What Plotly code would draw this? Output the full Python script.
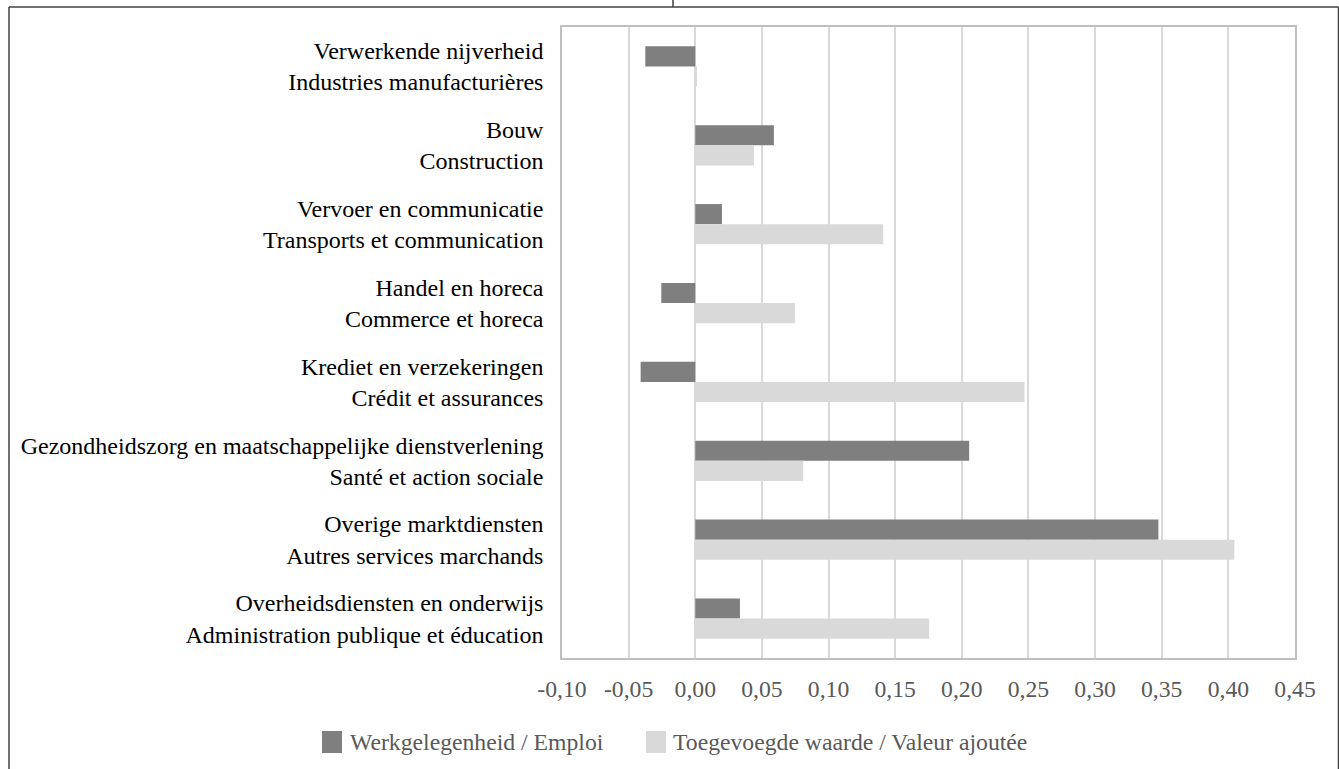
import plotly.graph_objects as go

categories = [
    "Verwerkende nijverheid<br>Industries manufacturières",
    "Bouw<br>Construction",
    "Vervoer en communicatie<br>Transports et communication",
    "Handel en horeca<br>Commerce et horeca",
    "Krediet en verzekeringen<br>Crédit et assurances",
    "Gezondheidszorg en maatschappelijke dienstverlening<br>Santé et action sociale",
    "Overige marktdiensten<br>Autres services marchands",
    "Overheidsdiensten en onderwijs<br>Administration publique et éducation",
]
werkgelegenheid = [-0.0375, 0.059, 0.020, -0.0255, -0.041, 0.2055, 0.3475, 0.0335]
toegevoegde_waarde = [0.001, 0.044, 0.141, 0.0748, 0.247, 0.081, 0.4045, 0.1755]
series_names = ["Werkgelegenheid / Emploi", "Toegevoegde waarde / Valeur ajoutée"]
tick_vals = [-0.10, -0.05, 0.00, 0.05, 0.10, 0.15, 0.20, 0.25, 0.30, 0.35, 0.40, 0.45]
tick_text = ["-0,10", "-0,05", "0,00", "0,05", "0,10", "0,15", "0,20", "0,25", "0,30", "0,35", "0,40", "0,45"]

DARK = "#7f7f7f"
LIGHT = "#d9d9d9"
FONT = "Liberation Serif"
W, H = 1339, 769
L, R, T, B = 562, 1295, 27, 658

def px(x):
    return (x - L) / (R - L)

def py(y):
    return (B - y) / (B - T)

fig = go.Figure()
fig.add_trace(go.Bar(y=categories, x=werkgelegenheid, orientation="h",
                     name=series_names[0], marker=dict(color=DARK, line=dict(width=0))))
fig.add_trace(go.Bar(y=categories, x=toegevoegde_waarde, orientation="h",
                     name=series_names[1], marker=dict(color=LIGHT, line=dict(width=0))))

shapes = [
    # outer frame
    dict(type="line", xref="paper", yref="paper", x0=px(9), x1=px(1338.5), y0=py(7), y1=py(7),
         line=dict(color="#404040", width=1.5)),
    dict(type="line", xref="paper", yref="paper", x0=px(9), x1=px(9), y0=py(7), y1=py(800),
         line=dict(color="#404040", width=1.5)),
    dict(type="line", xref="paper", yref="paper", x0=px(1338.5), x1=px(1338.5), y0=py(7), y1=py(800),
         line=dict(color="#404040", width=1.5)),
    dict(type="line", xref="paper", yref="paper", x0=px(673), x1=px(673), y0=py(0), y1=py(7),
         line=dict(color="#404040", width=1.5)),
    # legend swatches
    dict(type="rect", xref="paper", yref="paper", x0=px(322), x1=px(342), y0=py(731), y1=py(753),
         fillcolor=DARK, line=dict(width=0)),
    dict(type="rect", xref="paper", yref="paper", x0=px(646), x1=px(666), y0=py(731), y1=py(753),
         fillcolor=LIGHT, line=dict(width=0)),
]
annotations = [
    dict(xref="paper", yref="paper", x=px(348), y=py(742), xanchor="left", yanchor="middle",
         text=series_names[0], showarrow=False, font=dict(family=FONT, size=23.7, color="#595959")),
    dict(xref="paper", yref="paper", x=px(671), y=py(742), xanchor="left", yanchor="middle",
         text=series_names[1], showarrow=False, font=dict(family=FONT, size=23.7, color="#595959")),
]

fig.update_layout(
    width=W, height=H,
    margin=dict(l=L, r=W - R, t=T, b=H - B, pad=0),
    paper_bgcolor="white", plot_bgcolor="white",
    barmode="group", bargap=0.49, bargroupgap=0,
    showlegend=False,
    font=dict(family=FONT, size=24, color="#000000"),
    shapes=shapes, annotations=annotations,
    xaxis=dict(range=[-0.10, 0.45], tickvals=tick_vals, ticktext=tick_text,
               showgrid=True, gridcolor="#d9d9d9", gridwidth=1.5,
               zeroline=True, zerolinecolor="#d9d9d9", zerolinewidth=1.5,
               showline=True, mirror=True, linecolor="#bfbfbf", linewidth=1.5,
               ticks="", ticklabelstandoff=9,
               tickfont=dict(family=FONT, size=23.7, color="#595959")),
    yaxis=dict(autorange="reversed", showgrid=False, zeroline=False,
               showline=True, mirror=True, linecolor="#bfbfbf", linewidth=1.5,
               ticks="", ticklabelstandoff=12,
               tickfont=dict(family=FONT, size=24, color="#000000")),
)

fig.write_html("out.html", config={"displayModeBar": False},
               post_script="document.body.style.margin='0';document.body.style.overflow='hidden';")
